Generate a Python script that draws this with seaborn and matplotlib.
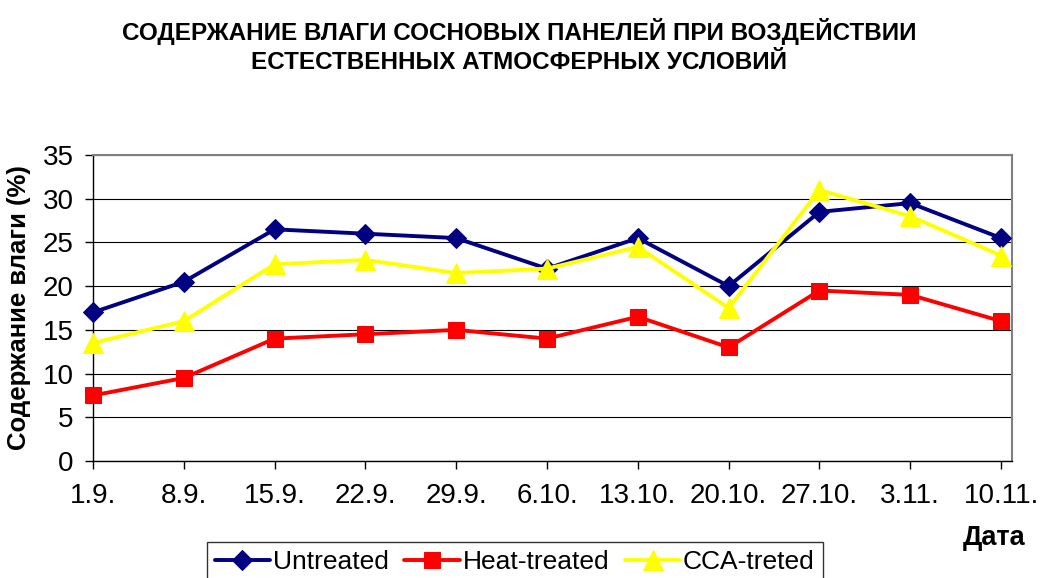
import numpy as np
import pandas as pd
import matplotlib
matplotlib.use("Agg")
import matplotlib.pyplot as plt
import seaborn as sns

# Данные
dates = ['1.9.', '8.9.', '15.9.', '22.9.', '29.9.', '6.10.', '13.10.',
         '20.10.', '27.10.', '3.11.', '10.11.']
untreated = [17, 20.5, 26.5, 26, 25.5, 22, 25.5, 20, 28.5, 29.5, 25.5]
heat_treated = [7.5, 9.5, 14, 14.5, 15, 14, 16.5, 13, 19.5, 19, 16]
cca_treated = [13.5, 16, 22.5, 23, 21.5, 22, 24.5, 17.5, 31, 28, 23.5]

series_names = ['Untreated', 'Heat-treated', 'CCA-treted']
colors = ['#000080', '#FF0000', '#FFFF00']
markers = ['D', 's', '^']
sizes = [10.5, 12, 14]

sns.set_style('white')
plt.rcParams['font.family'] = ['Liberation Sans', 'DejaVu Sans']
plt.rcParams['text.color'] = 'black'
plt.rcParams['axes.labelcolor'] = 'black'
plt.rcParams['xtick.color'] = 'black'
plt.rcParams['ytick.color'] = 'black'

fig = plt.figure(figsize=(10.44, 5.78), dpi=100)
ax = fig.add_axes([0.0891, 0.2024, 0.9693 - 0.0891, 0.7318 - 0.2024])

x = np.arange(len(dates))
for name, vals, c, m, ms in zip(series_names, [untreated, heat_treated, cca_treated],
                                colors, markers, sizes):
    df = pd.DataFrame({'x': x, 'y': vals})
    sns.lineplot(data=df, x='x', y='y', ax=ax, color=c, marker=m, markersize=ms,
                 markeredgecolor=c, linewidth=2.8, label=name, clip_on=False,
                 zorder=3)

ax.set_xlim(0, 10.12)
ax.set_ylim(0, 35)
ax.set_yticks(np.arange(0, 36, 5))
ax.set_xticks(x)
ax.set_xticklabels(dates)
ax.tick_params(axis='both', labelsize=20, direction='out', length=6,
               width=1, color='black', labelcolor='black', left=True, bottom=True)
ax.tick_params(axis='x', pad=10)
ax.tick_params(axis='y', pad=8)

ax.grid(axis='y', color='black', linewidth=0.8)
ax.grid(axis='x', visible=False)
for side in ['left', 'bottom']:
    ax.spines[side].set_color('black')
    ax.spines[side].set_linewidth(1)
for side in ['top', 'right']:
    ax.spines[side].set_color('#808080')
    ax.spines[side].set_linewidth(1.5)

ax.set_xlabel('')
ax.set_ylabel('Содержание влаги (%)', fontsize=18.5, fontweight='bold',
              labelpad=8, color='black')

fig.text(0.497, 0.920,
         'СОДЕРЖАНИЕ ВЛАГИ СОСНОВЫХ ПАНЕЛЕЙ ПРИ ВОЗДЕЙСТВИИ\n'
         'ЕСТЕСТВЕННЫХ АТМОСФЕРНЫХ УСЛОВИЙ',
         ha='center', va='center', fontsize=17.5, fontweight='bold',
         linespacing=1.35, color='black')
fig.text(0.952, 0.069, 'Дата', ha='center', va='center', fontsize=19.5,
         fontweight='bold', color='black')

handles, labels = ax.get_legend_handles_labels()
ax.get_legend().remove()
leg = fig.legend(handles, labels, loc='upper center', bbox_to_anchor=(0.493, 0.0623),
                 ncol=3, fontsize=19, frameon=True, fancybox=False,
                 edgecolor='black', handlelength=2.1, handletextpad=0.1,
                 columnspacing=0.6, borderpad=0.3, borderaxespad=0)
leg.get_frame().set_linewidth(1)

fig.savefig('out.png', dpi=100)
